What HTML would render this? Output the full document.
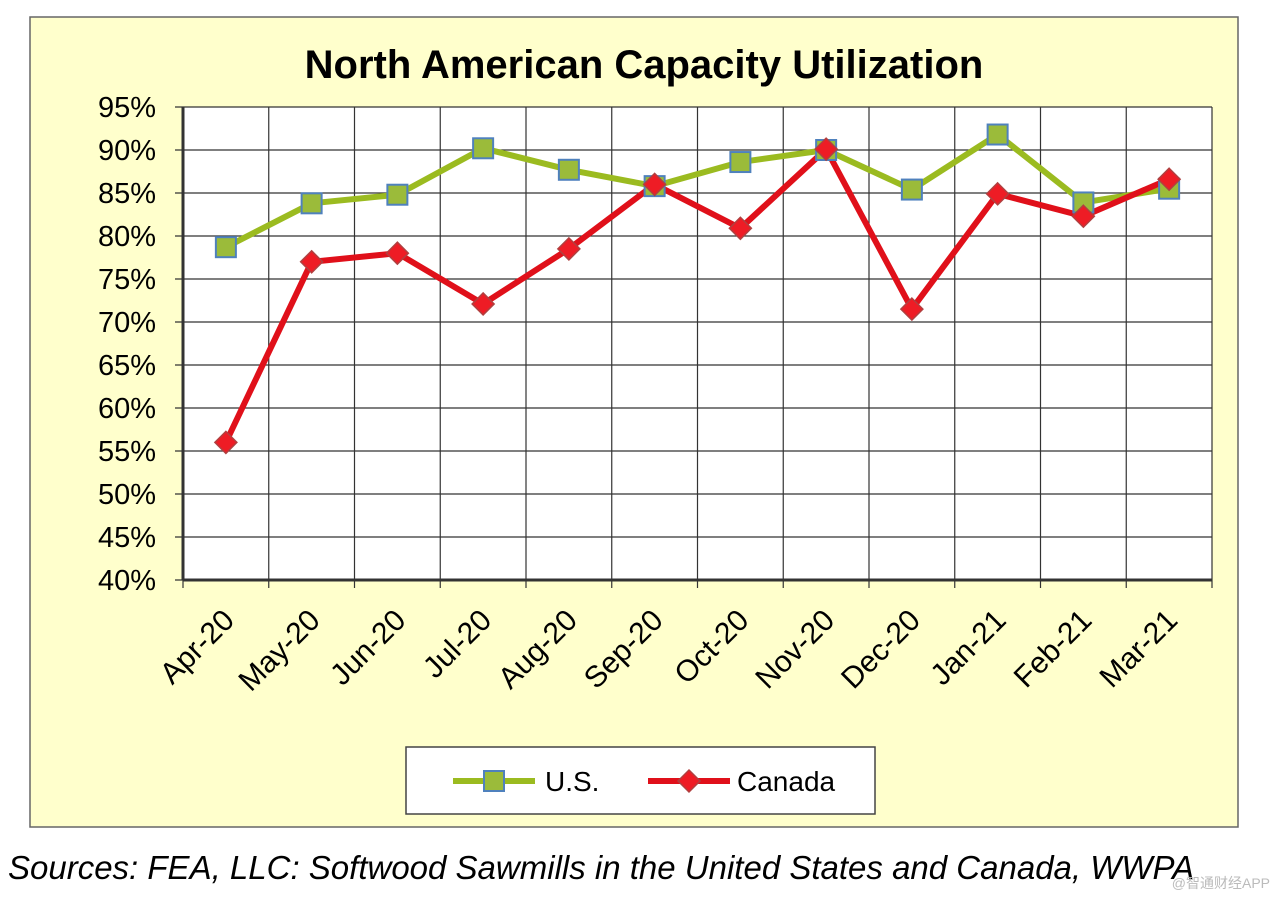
<!DOCTYPE html>
<html><head><meta charset="utf-8"><style>
body{margin:0;width:1280px;height:901px;background:#fff;overflow:hidden}
svg{display:block}
</style></head><body>
<svg id="c" width="1280" height="901" xmlns="http://www.w3.org/2000/svg" font-family="Liberation Sans, Arial, sans-serif">
<rect x="30" y="17" width="1208" height="810" fill="#FFFFCC" stroke="#666" stroke-width="1.5"/>
<text x="644" y="78" text-anchor="middle" font-size="40" font-weight="bold">North American Capacity Utilization</text>
<rect x="183" y="107" width="1029" height="473" fill="#fff"/>
<g id="grid"></g><g id="axes"></g><g id="series"></g>
<rect x="406" y="747" width="469" height="67" fill="#fff" stroke="#444" stroke-width="1.5"/>
<g>
<line x1="453" y1="781" x2="535" y2="781" stroke="#9BBB20" stroke-width="6"/>
<rect x="484" y="771" width="20" height="20" fill="#9BBB3A" stroke="#4F81BD" stroke-width="2"/>
<text x="545" y="791" font-size="28">U.S.</text></g>
<g>
<line x1="648" y1="781" x2="730" y2="781" stroke="#E0101A" stroke-width="6"/>
<polygon points="689,770 700,781 689,792 678,781" fill="#EE1C25" stroke="#B04040" stroke-width="1.5"/>
<text x="737" y="791" font-size="28">Canada</text></g>
<text x="8" y="879" font-size="33" font-style="italic">Sources: FEA, LLC: Softwood Sawmills in the United States and Canada, WWPA</text>
<text x="1270" y="888" text-anchor="end" font-size="14" fill="#bbb" font-family="Liberation Sans, Noto Sans CJK SC, sans-serif">@智通财经APP</text>
</svg>
<script>
const categories=["Apr-20","May-20","Jun-20","Jul-20","Aug-20","Sep-20","Oct-20","Nov-20","Dec-20","Jan-21","Feb-21","Mar-21"];
const usValues=[78.7,83.8,84.8,90.2,87.7,85.8,88.6,90.0,85.4,91.8,83.9,85.5];
const canadaValues=[56.0,77.0,78.0,72.1,78.5,86.0,80.9,90.1,71.5,84.9,82.3,86.6];
const yTicks=[40,45,50,55,60,65,70,75,80,85,90,95];
const NS="http://www.w3.org/2000/svg";
const L=183,R=1212,T=107,B=580,yMin=40,yMax=95;
const bw=(R-L)/categories.length;
function xS(i){return L+bw*(i+0.5);}
function yS(v){return B-(v-yMin)/(yMax-yMin)*(B-T);}
function mk(tag,a,p){const e=document.createElementNS(NS,tag);for(const k in a)e.setAttribute(k,a[k]);p.appendChild(e);return e;}
const grid=document.getElementById('grid'),axes=document.getElementById('axes'),ser=document.getElementById('series');
yTicks.forEach(t=>{const y=yS(t);
const g=mk('line',{x1:L-8,x2:R,y1:y,y2:y,stroke:'#333','stroke-width':1.2},grid);


const tx=mk('text',{x:156,y:y+10,'text-anchor':'end','font-size':29},axes);tx.textContent=t+'%';

});
for(let i=0;i<=categories.length;i++){const x=L+bw*i;
const g=mk('line',{x1:x,x2:x,y1:T,y2:B+8,stroke:'#333','stroke-width':1.2},grid);

}
mk('line',{x1:L,x2:L,y1:T,y2:B,stroke:'#333','stroke-width':3},axes);
mk('line',{x1:L,x2:R,y1:B,y2:B,stroke:'#333','stroke-width':3},axes);
categories.forEach((c,i)=>{const x=xS(i)+10,y=622;
const tx=mk('text',{x:x,y:y,'text-anchor':'end','font-size':30,transform:`rotate(-45 ${x} ${y})`},axes);tx.textContent=c;

});
function line(vals,color,name){const p=mk('polyline',{points:vals.map((v,i)=>xS(i)+','+yS(v)).join(' '),fill:'none',stroke:color,'stroke-width':6,'stroke-linejoin':'round'},ser);

}
line(usValues,'#9BBB20','us-line');
line(canadaValues,'#E0101A','canada-line');
usValues.forEach((v,i)=>{const r=mk('rect',{x:xS(i)-10,y:yS(v)-10,width:20,height:20,fill:'#9BBB3A',stroke:'#4F81BD','stroke-width':2},ser);

});
canadaValues.forEach((v,i)=>{const x=xS(i),y=yS(v);const p=mk('polygon',{points:`${x},${y-11} ${x+11},${y} ${x},${y+11} ${x-11},${y}`,fill:'#EE1C25',stroke:'#B04040','stroke-width':1.5},ser);

});
</script>
</body></html>
